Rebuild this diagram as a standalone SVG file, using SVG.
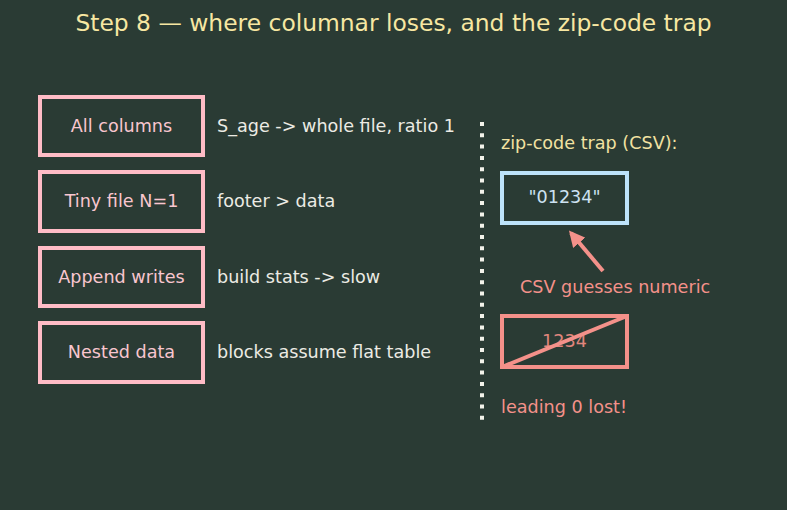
<svg xmlns="http://www.w3.org/2000/svg" width="787" height="510" viewBox="0 0 787 510">
<defs>
<style>
text{font-family:"DejaVu Sans","Liberation Sans",sans-serif;font-size:17.6px}
.box{fill:none;stroke:#ffbcc6;stroke-width:4}
.bt{fill:#f9c6cf;text-anchor:middle}
.lbl{fill:#ecebe4}
.title{fill:#f7e7a2;font-size:23.4px;text-anchor:middle}
.salmon{fill:#f4918a}
</style>
<marker id="ah" viewBox="0 0 10 10" refX="8" refY="5" markerWidth="4" markerHeight="4" orient="auto" markerUnits="strokeWidth">
<path d="M0,0 L10,5 L0,10 z" fill="#f4918a"/>
</marker>
</defs>
<rect width="787" height="510" fill="#2a3b34"/>
<text class="title" x="393.5" y="31">Step 8 — where columnar loses, and the zip-code trap</text>
<g id="n-allcolumns"><rect class="box" x="40" y="97" width="163" height="58"/><text class="bt" x="121.5" y="132">All columns</text></g>
<g id="n-tinyfile"><rect class="box" x="40" y="172" width="163" height="59"/><text class="bt" x="121.5" y="207">Tiny file N=1</text></g>
<g id="n-append"><rect class="box" x="40" y="248" width="163" height="58"/><text class="bt" x="121.5" y="283">Append writes</text></g>
<g id="n-nested"><rect class="box" x="40" y="323" width="163" height="59"/><text class="bt" x="121.5" y="358">Nested data</text></g>
<text class="lbl" x="217" y="132">S_age -&gt; whole file, ratio 1</text>
<text class="lbl" x="217" y="207">footer &gt; data</text>
<text class="lbl" x="217" y="283">build stats -&gt; slow</text>
<text class="lbl" x="217" y="358">blocks assume flat table</text>
<line x1="482" y1="122" x2="482" y2="420" stroke="#f2f2ea" stroke-width="4" stroke-dasharray="4 7.3"/>
<text x="501" y="149" fill="#f2e2a2">zip-code trap (CSV):</text>
<g id="n-quoted"><rect x="502" y="173" width="125" height="50" fill="none" stroke="#bde3fa" stroke-width="4"/><text x="564.5" y="203" fill="#cde2f2" text-anchor="middle">"01234"</text></g>
<g id="n-numeric"><rect x="502" y="316" width="125" height="51" fill="none" stroke="#f4918a" stroke-width="4"/><text x="564.5" y="347" fill="#e0867d" text-anchor="middle">1234</text><line x1="502" y1="367" x2="627" y2="316" stroke="#f4918a" stroke-width="4"/></g>
<g id="connectors"><line x1="603" y1="271" x2="571" y2="233" stroke="#f4918a" stroke-width="4" marker-end="url(#ah)"/></g>
<text class="salmon" x="520" y="293">CSV guesses numeric</text>
<text class="salmon" x="501" y="413">leading 0 lost!</text>
</svg>
